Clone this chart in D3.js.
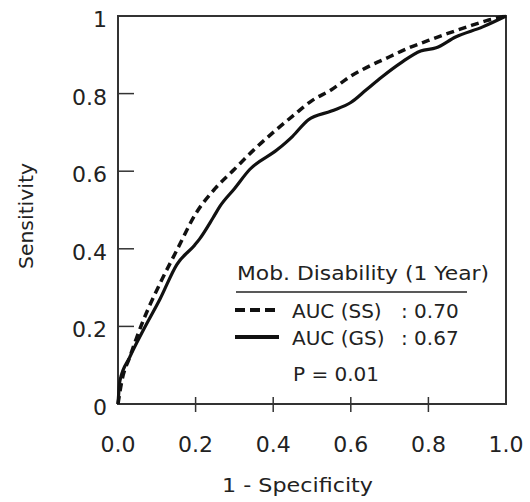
<!DOCTYPE html>
<html>
<head>
<meta charset="utf-8">
<script src="https://cdn.jsdelivr.net/npm/d3@7"></script>
<style>
  body { margin: 0; background: #fff; }
  text { font-family: "DejaVu Sans", sans-serif; fill: #222; }
</style>
</head>
<body>
<div id="chart"></div>
<script>
// ROC curves (1 - specificity, sensitivity)
const ssFpr  = [0, 0.01, 0.03, 0.065, 0.108, 0.152, 0.2, 0.25, 0.3, 0.35, 0.4, 0.45, 0.5, 0.55, 0.6, 0.65, 0.7, 0.75, 0.8, 0.85, 0.9, 0.95, 1];
const ssTpr  = [0, 0.06, 0.12, 0.215, 0.31, 0.397, 0.49, 0.555, 0.605, 0.655, 0.7, 0.742, 0.782, 0.81, 0.845, 0.872, 0.895, 0.918, 0.937, 0.955, 0.972, 0.988, 1];
const gsFpr  = [0, 0.005, 0.03, 0.065, 0.108, 0.152, 0.198, 0.21, 0.245, 0.263, 0.3, 0.34, 0.41, 0.45, 0.49, 0.55, 0.6, 0.64, 0.68, 0.73, 0.78, 0.82, 0.87, 0.94, 1];
const gsTpr  = [0, 0.06, 0.12, 0.19, 0.27, 0.36, 0.41, 0.425, 0.48, 0.51, 0.555, 0.605, 0.655, 0.69, 0.732, 0.755, 0.777, 0.81, 0.843, 0.88, 0.91, 0.918, 0.946, 0.972, 1];

const xTicks = [0, 0.2, 0.4, 0.6, 0.8, 1.0];
const yTicks = [0, 0.2, 0.4, 0.6, 0.8, 1];
const legendTitle = "Mob. Disability (1 Year)";
const legendNames = ["AUC (SS)", "AUC (GS)"];
const legendAuc = ["0.70", "0.67"];
const pText = "P = 0.01";

const width = 530, height = 502;
const margin = { top: 16, right: 24, bottom: 98, left: 118 };

const svg = d3.select("#chart").append("svg")
  .attr("width", width)
  .attr("height", height);

const x = d3.scaleLinear().domain([0, 1])
  .range([margin.left, width - margin.right]);
const y = d3.scaleLinear().domain([0, 1])
  .range([height - margin.bottom, margin.top]);

// frame
svg.append("rect")
  .attr("x", x(0)).attr("y", y(1))
  .attr("width", x(1) - x(0)).attr("height", y(0) - y(1))
  .attr("fill", "none").attr("stroke", "#333").attr("stroke-width", 2);

// x ticks cross the axis
const xAxis = svg.append("g");
xAxis.selectAll("line").data(xTicks.slice(1, -1)).join("line")
  .attr("x1", d => x(d)).attr("x2", d => x(d))
  .attr("y1", y(0) - 7).attr("y2", y(0) + 8)
  .attr("stroke", "#333").attr("stroke-width", 1.5);
xAxis.selectAll("text").data(xTicks).join("text")
  .attr("x", d => x(d)).attr("y", 452)
  .attr("text-anchor", "middle")
  .style("font-size", "22px")
  .text(d => d3.format(".1f")(d));

// y ticks inside
const yAxis = svg.append("g");
yAxis.selectAll("line").data(yTicks.slice(1, -1)).join("line")
  .attr("x1", x(0)).attr("x2", x(0) + 16)
  .attr("y1", d => y(d)).attr("y2", d => y(d))
  .attr("stroke", "#333").attr("stroke-width", 1.5);
yAxis.selectAll("text").data(yTicks).join("text")
  .attr("x", 107).attr("y", d => y(d))
  .attr("dy", "0.5em")
  .attr("text-anchor", "end")
  .style("font-size", "22px")
  .text(d => d === 0 || d === 1 ? d : d3.format(".1f")(d));

// axis titles
svg.append("text")
  .attr("transform", "translate(33,216) rotate(-90)")
  .attr("text-anchor", "middle")
  .style("font-size", "19px")
  .attr("textLength", 106)
  .attr("lengthAdjust", "spacingAndGlyphs")
  .text("Sensitivity");
svg.append("text")
  .attr("x", 222).attr("y", 492)
  .style("font-size", "20px")
  .attr("textLength", 151)
  .attr("lengthAdjust", "spacingAndGlyphs")
  .text("1 - Specificity");

// curves
const line = d3.line()
  .x(d => x(d[0])).y(d => y(d[1]))
  .curve(d3.curveMonotoneX);

svg.append("path")
  .datum(d3.zip(ssFpr, ssTpr))
  .attr("d", line)
  .attr("fill", "none").attr("stroke", "#111")
  .attr("stroke-width", 3.5).attr("stroke-dasharray", "8,5");

svg.append("path")
  .datum(d3.zip(gsFpr, gsTpr))
  .attr("d", line)
  .attr("fill", "none").attr("stroke", "#111")
  .attr("stroke-width", 3.2).attr("stroke-linejoin", "round");

// legend
const lg = svg.append("g");
lg.append("text")
  .attr("x", 237).attr("y", 280)
  .style("font-size", "20px")
  .attr("textLength", 252)
  .attr("lengthAdjust", "spacingAndGlyphs")
  .text(legendTitle);
lg.append("line")
  .attr("x1", 236).attr("x2", 467)
  .attr("y1", 292).attr("y2", 292)
  .attr("stroke", "#222").attr("stroke-width", 1.5);

const rows = [310, 337];
lg.selectAll(".sample").data(legendNames).join("line")
  .attr("class", "sample")
  .attr("x1", 235).attr("x2", 279)
  .attr("y1", (d, i) => rows[i]).attr("y2", (d, i) => rows[i])
  .attr("stroke", "#111").attr("stroke-width", 4)
  .attr("stroke-dasharray", (d, i) => i === 0 ? "10,5" : null);
lg.selectAll(".name").data(legendNames).join("text")
  .attr("class", "name")
  .attr("x", 292).attr("y", (d, i) => rows[i] + 8)
  .style("font-size", "20px")
  .text(d => d);
lg.selectAll(".auc").data(legendAuc).join("text")
  .attr("class", "auc")
  .attr("x", 401).attr("y", (d, i) => rows[i] + 8)
  .style("font-size", "20px")
  .text(d => ": " + d);
lg.append("text")
  .attr("x", 293).attr("y", 381)
  .style("font-size", "20px")
  .text(pText);
</script>
</body>
</html>
